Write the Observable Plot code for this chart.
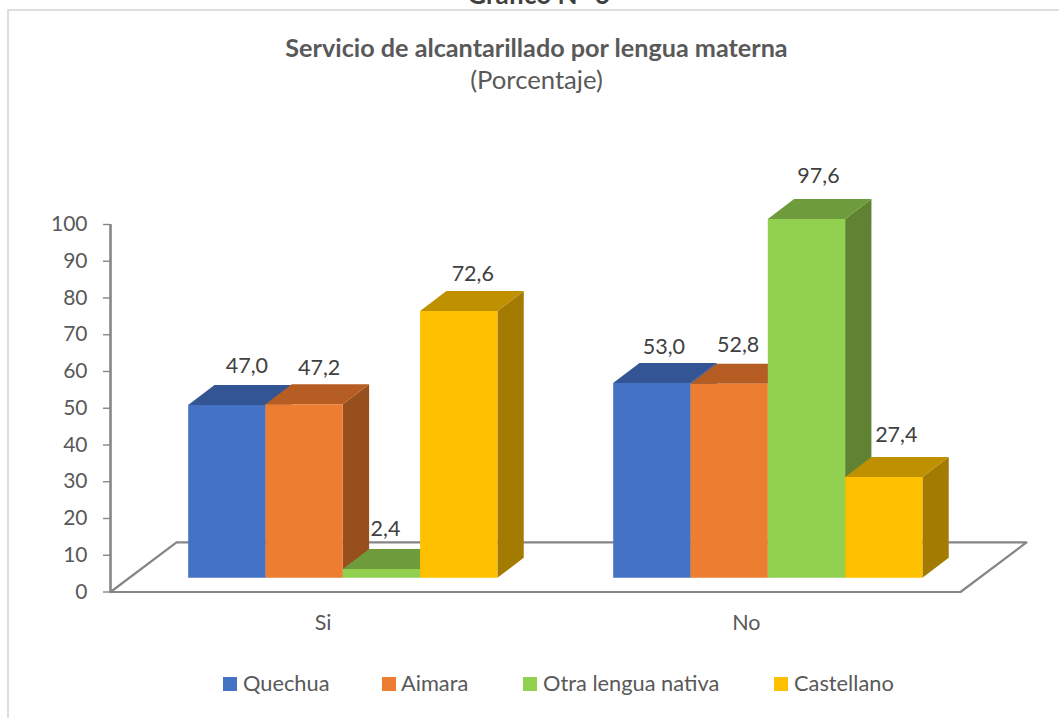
<!DOCTYPE html>
<html lang="es">
<head>
<meta charset="utf-8">
<script src="https://cdn.jsdelivr.net/npm/d3@7"></script>
<script src="https://cdn.jsdelivr.net/npm/@observablehq/plot@0.6"></script>
<style>
  html, body { margin: 0; padding: 0; background: #fff; }
  #page { position: relative; width: 1059px; height: 718px; overflow: hidden; font-family: Lato, sans-serif; color: #595959; }
  #page > * { position: absolute; }
  #frame { left: 7px; top: 9px; width: 1200px; height: 800px; border: 2px solid #dedede; box-sizing: border-box; }
  #chart { left: 0; top: 0; }
  #heading { left: 0; width: 1077px; top: -21px; margin: 0; text-align: center; font-size: 26px; line-height: 30px; font-weight: 700; color: #404040; }
  #title { left: 0; width: 1073px; top: 32px; margin: 0; text-align: center; font-size: 25.2px; line-height: 30px; font-weight: 700; color: #595959; }
  #subtitle { left: 0; width: 1073px; top: 64px; margin: 0; text-align: center; font-size: 25.7px; line-height: 30px; font-weight: 400; color: #595959; }
  .swatch { width: 14px; height: 14px; top: 677px; }
  .entry { top: 670px; font-size: 21.8px; line-height: 26px; white-space: nowrap; }
</style>
</head>
<body>
<div id="page">
  <div id="frame"></div>
  <div id="heading">Gráfico N° 6</div>
  <h1 id="title">Servicio de alcantarillado por lengua materna</h1>
  <p id="subtitle">(Porcentaje)</p>
</div>
<script>
const categories = ["Si", "No"];
const seriesNames = ["Quechua", "Aimara", "Otra lengua nativa", "Castellano"];
const quechua = [47.0, 53.0];
const aimara = [47.2, 52.8];
const otra = [2.4, 97.6];
const castellano = [72.6, 27.4];
const seriesValues = [quechua, aimara, otra, castellano];
const yTicks = [0, 10, 20, 30, 40, 50, 60, 70, 80, 90, 100];

// Colours: front, top and side faces of the bars
const front = ["#4472C4", "#ED7D31", "#92D050", "#FFC000"];
const top_ = ["#335593", "#B55D22", "#6E9C3C", "#BF9000"];
const side = ["#2F5089", "#964F1D", "#5F8333", "#A37B00"];
const axisGray = "#868686";

// 3D layout, in scale units (x: one unit per category, y: percent)
const groupStart = 0.1828, barWidth = 0.1819, barDepthX = 0.0619, barDepthY = 5.45;
const baseValue = 3.87, floorDepthX = 0.1553, floorDepthY = 13.5;
const pxX = 1 / 425, pxY = 1 / 3.675;

// Hand-placed data label nudges in pixels, [x right, y up], per series and category
const labelNudge = [
  [[20, 39], [12, 36]],
  [[15, 36], [9, 39]],
  [[4, 40], [12, 43]],
  [[14, 37], [12.5, 42]]
];

const faces = [];
const labels = [];
seriesValues.forEach((vals, s) => vals.forEach((v, c) => {
  const x0 = c + groupStart + s * barWidth, x1 = x0 + barWidth;
  const y0 = baseValue, y1 = baseValue + v;
  const dx = barDepthX, dy = barDepthY;
  const poly = (name, color, pts) => pts.forEach(([x, y]) => faces.push({face: `${s}-${c}-${name}`, color, x, y}));
  poly("side", side[s], [[x1, y0], [x1 + dx, y0 + dy], [x1 + dx, y1 + dy], [x1, y1]]);
  poly("top", top_[s], [[x0, y1], [x0 + dx, y1 + dy], [x1 + dx, y1 + dy], [x1, y1]]);
  poly("front", front[s], [[x0, y0], [x1, y0], [x1, y1], [x0, y1]]);
  labels.push({
    x: x0 + barWidth / 2 + labelNudge[s][c][0] * pxX,
    y: y1 + labelNudge[s][c][1] * pxY,
    text: v.toFixed(1).replace(".", ",")
  });
}));
// Faces must stack left to right within a category, so sort by category then series (stable)
const faceOrder = d => +d.face.split("-")[1] * 10 + +d.face.split("-")[0];
faces.sort((a, b) => faceOrder(a) - faceOrder(b));

const floorPath = [
  {x: 0, y: 0},
  {x: categories.length, y: 0},
  {x: categories.length + floorDepthX, y: floorDepthY},
  {x: floorDepthX, y: floorDepthY},
  {x: 0, y: 0}
];

const chart = Plot.plot({
  width: 1059,
  height: 718,
  marginLeft: 110,
  marginRight: 99,
  marginTop: 224,
  marginBottom: 126.5,
  style: {fontFamily: "Lato, sans-serif", background: "transparent", overflow: "visible"},
  x: {domain: [0, categories.length], axis: null},
  y: {domain: [0, 100], axis: null},
  color: {type: "identity"},
  marks: [
    Plot.line(floorPath, {x: "x", y: "y", stroke: axisGray, strokeWidth: 2.2, curve: "linear"}),
    Plot.ruleX([0], {y1: 0, y2: 100, stroke: axisGray, strokeWidth: 2.6}),
    Plot.axisY({
      ticks: yTicks, tickSize: 7, tickPadding: 16, label: null, fontSize: 21,
      stroke: axisGray, strokeWidth: 1.4, color: "#595959", fill: "#595959", tickFormat: d => String(d)
    }),
    Plot.line(faces, {x: "x", y: "y", z: "face", fill: "color", stroke: null, curve: "linear-closed"}),
    Plot.text(labels, {x: "x", y: "y", text: "text", fontSize: 21.5, fill: "#404040"}),
    Plot.text(categories, {x: (d, i) => i + 0.5 - i * 0.004, y: 0, text: d => d, dy: 31, fontSize: 21.5, fill: "#595959"})
  ]
});
chart.id = "chart";
const page = document.getElementById("page");
page.insertBefore(chart, document.getElementById("heading"));

// Legend
const swatchLefts = [223, 381.5, 522.5, 773.5];
const textLefts = [243, 401, 543, 794];
seriesNames.forEach((name, i) => {
  const sw = document.createElement("div");
  sw.className = "swatch";
  sw.style.left = swatchLefts[i] + "px";
  sw.style.background = front[i];
  const t = document.createElement("div");
  t.className = "entry";
  t.style.left = textLefts[i] + "px";
  t.textContent = name;
  page.append(sw, t);
});
</script>
</body>
</html>
